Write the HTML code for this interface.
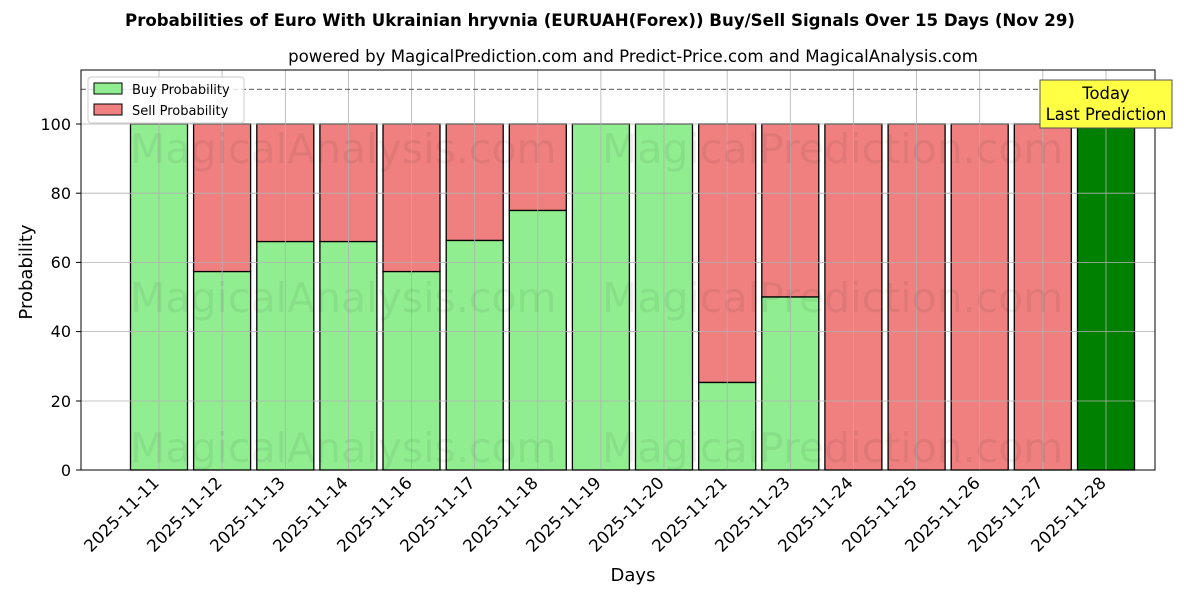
<!DOCTYPE html>
<html><head><meta charset="utf-8"><style>body{margin:0;background:#fff}</style></head><body>
<svg width="1200" height="600" xmlns="http://www.w3.org/2000/svg" font-family="'DejaVu Sans', 'Liberation Sans', sans-serif">
<rect width="1200" height="600" fill="#fff"/>
<text x="600" y="26" text-anchor="middle" font-size="16.6" font-weight="bold">Probabilities of Euro With Ukrainian hryvnia (EURUAH(Forex)) Buy/Sell Signals Over 15 Days (Nov 29)</text>
<text x="633" y="62" text-anchor="middle" font-size="16.6">powered by MagicalPrediction.com and Predict-Price.com and MagicalAnalysis.com</text>
<g stroke="#000" stroke-width="1.3">
<rect x="130.5" y="124" width="57" height="346" fill="#90ee90"/>
<rect x="193.6" y="124" width="57" height="147.6" fill="#f08080"/><rect x="193.6" y="271.6" width="57" height="198.4" fill="#90ee90"/>
<rect x="256.8" y="124" width="57" height="117.6" fill="#f08080"/><rect x="256.8" y="241.6" width="57" height="228.4" fill="#90ee90"/>
<rect x="319.9" y="124" width="57" height="117.6" fill="#f08080"/><rect x="319.9" y="241.6" width="57" height="228.4" fill="#90ee90"/>
<rect x="383.0" y="124" width="57" height="147.6" fill="#f08080"/><rect x="383.0" y="271.6" width="57" height="198.4" fill="#90ee90"/>
<rect x="446.2" y="124" width="57" height="116.5" fill="#f08080"/><rect x="446.2" y="240.5" width="57" height="229.5" fill="#90ee90"/>
<rect x="509.3" y="124" width="57" height="86.5" fill="#f08080"/><rect x="509.3" y="210.5" width="57" height="259.5" fill="#90ee90"/>
<rect x="572.4" y="124" width="57" height="346" fill="#90ee90"/>
<rect x="635.5" y="124" width="57" height="346" fill="#90ee90"/>
<rect x="698.7" y="124" width="57" height="258.5" fill="#f08080"/><rect x="698.7" y="382.5" width="57" height="87.5" fill="#90ee90"/>
<rect x="761.8" y="124" width="57" height="173" fill="#f08080"/><rect x="761.8" y="297" width="57" height="173" fill="#90ee90"/>
<rect x="824.9" y="124" width="57" height="346" fill="#f08080"/>
<rect x="888.1" y="124" width="57" height="346" fill="#f08080"/>
<rect x="951.2" y="124" width="57" height="346" fill="#f08080"/>
<rect x="1014.3" y="124" width="57" height="346" fill="#f08080"/>
<rect x="1077.5" y="124" width="57" height="346" fill="#008000"/>
</g>
<g stroke="#b0b0b0" stroke-width="0.8">
<line x1="81" x2="1155" y1="470" y2="470"/><line x1="81" x2="1155" y1="401" y2="401"/><line x1="81" x2="1155" y1="331.6" y2="331.6"/><line x1="81" x2="1155" y1="262.4" y2="262.4"/><line x1="81" x2="1155" y1="193.2" y2="193.2"/><line x1="81" x2="1155" y1="124" y2="124"/>
<line x1="159" x2="159" y1="70" y2="470"/><line x1="222.1" x2="222.1" y1="70" y2="470"/><line x1="285.3" x2="285.3" y1="70" y2="470"/><line x1="348.4" x2="348.4" y1="70" y2="470"/><line x1="411.5" x2="411.5" y1="70" y2="470"/><line x1="474.7" x2="474.7" y1="70" y2="470"/><line x1="537.8" x2="537.8" y1="70" y2="470"/><line x1="600.9" x2="600.9" y1="70" y2="470"/><line x1="664" x2="664" y1="70" y2="470"/><line x1="727.2" x2="727.2" y1="70" y2="470"/><line x1="790.3" x2="790.3" y1="70" y2="470"/><line x1="853.4" x2="853.4" y1="70" y2="470"/><line x1="916.6" x2="916.6" y1="70" y2="470"/><line x1="979.7" x2="979.7" y1="70" y2="470"/><line x1="1042.8" x2="1042.8" y1="70" y2="470"/><line x1="1106" x2="1106" y1="70" y2="470"/>
</g>
<line x1="81" x2="1155" y1="89.4" y2="89.4" stroke="#777" stroke-width="1.3" stroke-dasharray="5,3"/>
<g font-size="41" fill="#000" fill-opacity="0.06">
<text x="130" y="163">MagicalAnalysis.com</text><text x="602" y="163">MagicalPrediction.com</text>
<text x="130" y="312">MagicalAnalysis.com</text><text x="602" y="312">MagicalPrediction.com</text>
<text x="130" y="462">MagicalAnalysis.com</text><text x="602" y="462">MagicalPrediction.com</text>
</g>
<rect x="81" y="70" width="1074" height="400" fill="none" stroke="#000" stroke-width="1"/>
<g font-size="16" text-anchor="end">
<text x="71" y="476">0</text><text x="71" y="407">20</text><text x="71" y="337">40</text><text x="71" y="268">60</text><text x="71" y="199">80</text><text x="71" y="130">100</text>
</g>
<g stroke="#000"><line x1="76" x2="81" y1="470" y2="470"/><line x1="76" x2="81" y1="401" y2="401"/><line x1="76" x2="81" y1="331.6" y2="331.6"/><line x1="76" x2="81" y1="262.4" y2="262.4"/><line x1="76" x2="81" y1="193.2" y2="193.2"/><line x1="76" x2="81" y1="124" y2="124"/></g>
<text transform="translate(32,272) rotate(-90)" text-anchor="middle" font-size="18">Probability</text>
<text x="633" y="581" text-anchor="middle" font-size="18">Days</text>
<g font-size="16.8" text-anchor="end">
<text transform="translate(160,484) rotate(-45)">2025-11-11</text>
<text transform="translate(223,484) rotate(-45)">2025-11-12</text>
<text transform="translate(286,484) rotate(-45)">2025-11-13</text>
<text transform="translate(349,484) rotate(-45)">2025-11-14</text>
<text transform="translate(413,484) rotate(-45)">2025-11-16</text>
<text transform="translate(476,484) rotate(-45)">2025-11-17</text>
<text transform="translate(539,484) rotate(-45)">2025-11-18</text>
<text transform="translate(602,484) rotate(-45)">2025-11-19</text>
<text transform="translate(665,484) rotate(-45)">2025-11-20</text>
<text transform="translate(728,484) rotate(-45)">2025-11-21</text>
<text transform="translate(791,484) rotate(-45)">2025-11-23</text>
<text transform="translate(854,484) rotate(-45)">2025-11-24</text>
<text transform="translate(918,484) rotate(-45)">2025-11-25</text>
<text transform="translate(981,484) rotate(-45)">2025-11-26</text>
<text transform="translate(1044,484) rotate(-45)">2025-11-27</text>
<text transform="translate(1107,484) rotate(-45)">2025-11-28</text>
</g>
<rect x="88" y="77" width="156" height="46" rx="3" fill="#fff" fill-opacity="0.8" stroke="#ccc"/>
<rect x="94" y="83" width="28" height="11" fill="#90ee90" stroke="#000"/>
<text x="132" y="94" font-size="13">Buy Probability</text>
<rect x="94" y="104" width="28" height="11" fill="#f08080" stroke="#000"/>
<text x="132" y="115" font-size="13">Sell Probability</text>
<rect x="1040" y="80" width="132" height="48" fill="#ffff44" stroke="#555"/>
<text x="1106" y="99" text-anchor="middle" font-size="16.4">Today</text>
<text x="1106" y="120" text-anchor="middle" font-size="16.4">Last Prediction</text>
</svg>
</body></html>
